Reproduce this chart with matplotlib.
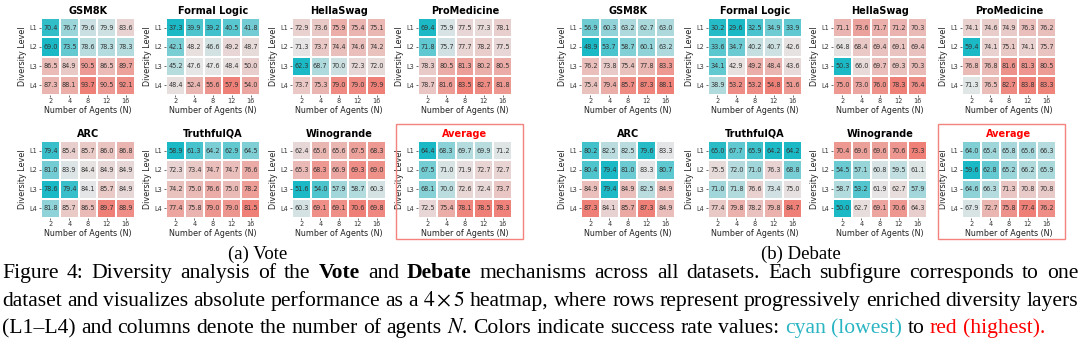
import numpy as np
import matplotlib
matplotlib.use("Agg")
import matplotlib.pyplot as plt
from matplotlib.colors import LinearSegmentedColormap
from matplotlib.patches import Rectangle

# -----------------------------
# DATA (rows L1..L4, columns N = 2, 4, 8, 12, 16)
# -----------------------------
agents = ["2", "4", "8", "12", "16"]
levels = ["L1", "L2", "L3", "L4"]
datasets = ["GSM8K", "Formal Logic", "HellaSwag", "ProMedicine",
            "ARC", "TruthfulQA", "Winogrande", "Average"]

vote_gsm8k = [[70.4, 76.7, 79.6, 79.9, 83.6], [69.0, 73.5, 78.6, 78.3, 78.3],
              [86.5, 84.9, 90.5, 86.5, 89.7], [87.3, 88.1, 93.7, 90.5, 92.1]]
vote_formal = [[37.3, 39.9, 39.2, 40.5, 41.8], [42.1, 48.2, 46.6, 49.2, 48.7],
               [45.2, 47.6, 47.6, 48.4, 50.0], [48.4, 52.4, 55.6, 57.9, 54.0]]
vote_hella = [[72.9, 73.6, 75.9, 75.4, 75.1], [71.3, 73.7, 74.4, 74.6, 74.2],
              [62.3, 68.7, 70.0, 72.3, 72.0], [73.7, 75.3, 79.0, 79.0, 79.9]]
vote_promed = [[69.4, 75.9, 77.5, 77.3, 78.1], [71.8, 75.7, 77.7, 78.2, 77.5],
               [78.3, 80.5, 81.3, 80.2, 80.5], [78.7, 81.6, 83.5, 82.7, 81.8]]
vote_arc = [[79.4, 85.4, 85.7, 86.0, 86.8], [81.0, 83.9, 84.4, 84.9, 84.9],
            [78.6, 79.4, 84.1, 85.7, 84.9], [81.8, 85.7, 86.5, 89.7, 88.9]]
vote_tqa = [[58.9, 61.3, 64.2, 62.9, 64.5], [72.3, 73.4, 74.7, 74.7, 76.6],
            [74.2, 75.0, 76.6, 75.0, 78.2], [77.4, 75.8, 79.0, 79.0, 81.5]]
vote_wino = [[62.4, 65.6, 65.6, 67.5, 68.3], [65.3, 68.3, 66.9, 69.3, 69.0],
             [51.6, 54.0, 57.9, 58.7, 60.3], [60.3, 69.1, 69.1, 70.6, 69.8]]
vote_avg = [[64.4, 68.3, 69.7, 69.9, 71.2], [67.5, 71.0, 71.9, 72.7, 72.7],
            [68.1, 70.0, 72.6, 72.4, 73.7], [72.5, 75.4, 78.1, 78.5, 78.3]]

debate_gsm8k = [[56.9, 60.3, 63.2, 62.7, 63.0], [48.9, 53.7, 58.7, 60.1, 63.2],
                [76.2, 73.8, 75.4, 77.8, 83.3], [75.4, 79.4, 85.7, 87.3, 88.1]]
debate_formal = [[30.2, 29.6, 32.5, 34.9, 33.9], [33.6, 34.7, 40.2, 40.7, 42.6],
                 [34.1, 42.9, 49.2, 48.4, 43.6], [38.9, 53.2, 53.2, 54.8, 51.6]]
debate_hella = [[71.1, 73.6, 71.7, 71.2, 70.3], [64.8, 68.4, 69.4, 69.1, 69.4],
                [50.3, 66.0, 69.7, 69.3, 70.3], [75.0, 73.0, 76.0, 78.3, 76.4]]
debate_promed = [[74.1, 74.6, 74.9, 76.3, 76.2], [59.4, 74.1, 75.1, 74.1, 75.7],
                 [76.8, 76.8, 81.6, 81.3, 80.5], [71.3, 76.5, 82.7, 83.8, 83.3]]
debate_arc = [[80.2, 82.5, 82.5, 79.6, 83.3], [80.4, 79.4, 81.0, 83.3, 80.7],
              [84.9, 79.4, 84.9, 82.5, 84.9], [87.3, 84.1, 85.7, 87.3, 84.9]]
debate_tqa = [[65.0, 67.7, 65.9, 64.2, 64.2], [75.5, 72.0, 71.0, 76.3, 68.8],
              [71.0, 71.8, 76.6, 73.4, 75.0], [77.4, 79.8, 78.2, 79.8, 84.7]]
debate_wino = [[70.4, 69.6, 69.6, 70.6, 73.3], [54.5, 57.1, 60.8, 59.5, 61.1],
               [58.7, 53.2, 61.9, 62.7, 57.9], [50.0, 62.7, 69.1, 70.6, 64.3]]
debate_avg = [[64.0, 65.4, 65.8, 65.6, 66.3], [59.6, 62.8, 65.2, 66.2, 65.9],
              [64.6, 66.3, 71.3, 70.8, 70.8], [67.9, 72.7, 75.8, 77.4, 76.2]]

vote_tables = [vote_gsm8k, vote_formal, vote_hella, vote_promed,
               vote_arc, vote_tqa, vote_wino, vote_avg]
debate_tables = [debate_gsm8k, debate_formal, debate_hella, debate_promed,
                 debate_arc, debate_tqa, debate_wino, debate_avg]

# -----------------------------
# FIGURE / LAYOUT (pixel helpers)
# -----------------------------
W, H = 1080, 351
fig = plt.figure(figsize=(W / 100, H / 100), dpi=100)
plt.rcParams["mathtext.fontset"] = "stix"

cmap = LinearSegmentedColormap.from_list("cyan_red", ["#1bb9c5", "#e6e6e6", "#ef8077"])


def px_axes(x, y, w, h):
    return fig.add_axes([x / W, 1 - (y + h) / H, w / W, h / H])


def draw_heatmap(ax, vals, title, title_color="black"):
    vals = np.array(vals)
    ax.pcolormesh(vals, cmap=cmap, vmin=vals.min(), vmax=vals.max(),
                  edgecolors="white", linewidth=0.3)
    ax.set_xlim(0, 5)
    ax.set_ylim(4, 0)
    for i in range(4):
        for j in range(5):
            ax.text(j + 0.5, i + 0.5, f"{vals[i, j]:.1f}", ha="center", va="center",
                    fontsize=4.7, color="#333333")
    ax.set_xticks(np.arange(5) + 0.5, agents)
    ax.set_yticks(np.arange(4) + 0.5, levels)
    ax.tick_params(labelsize=4.7, length=1.5, width=0.5, pad=1, colors="#333333")
    for s in ax.spines.values():
        s.set_visible(False)
    ax.set_title(title, fontsize=7, fontweight="bold", color=title_color, pad=3)
    ax.set_xlabel("Number of Agents (N)", fontsize=5.8, labelpad=1, color="#222222")
    ax.set_ylabel("Diversity Level", fontsize=5.8, labelpad=2, color="#222222")


col_x = {"vote": [41, 166, 292, 418], "debate": [581, 708, 833, 962]}
row_y = [18, 141]
cell_w, cell_h = 94, 77

for group, tables in [("vote", vote_tables), ("debate", debate_tables)]:
    for k, (name, vals) in enumerate(zip(datasets, tables)):
        ax = px_axes(col_x[group][k % 4], row_y[k // 4], cell_w, cell_h)
        draw_heatmap(ax, vals, name, "#ff0000" if name == "Average" else "black")

# red boxes around the Average panels
for bx in [396, 938]:
    fig.patches.append(Rectangle((bx / W, 1 - 239 / H), 127 / W, 115 / H,
                                 transform=fig.transFigure, fill=False,
                                 edgecolor="#f4837d", linewidth=1.0))

# -----------------------------
# CAPTIONS
# -----------------------------
serif = "Liberation Serif"
FS = 15.6
fig.text(258 / W, 1 - 259 / H, "(a) Vote", fontsize=13.5, family=serif, ha="center", va="baseline")
fig.text(801 / W, 1 - 259 / H, "(b) Debate", fontsize=13.5, family=serif, ha="center", va="baseline")

renderer = fig.canvas.get_renderer()


def words(s, **kw):
    return [(w, kw) for w in s.split()]


def place_line(items, y, x0=2, x1=1078, justify=True):
    texts = [fig.text(0, 1 - y / H, w, fontsize=FS, family=serif, va="baseline", **kw)
             for w, kw in items]
    widths = [t.get_window_extent(renderer).width for t in texts]
    gap = 0.25 * FS * 100 / 72
    if justify:
        gap = max((x1 - x0 - sum(widths)) / (len(texts) - 1), 2)
    x = x0
    for t, wd in zip(texts, widths):
        t.set_x(x / W)
        x += wd + gap


line1 = (words("Figure 4: Diversity analysis of the") + [("Vote", {"fontweight": "bold"})]
         + words("and") + [("Debate", {"fontweight": "bold"})]
         + words("mechanisms across all datasets. Each subfigure corresponds to one"))
line2 = (words("dataset and visualizes absolute performance as a") + [(r"$4\times5$", {})]
         + words("heatmap, where rows represent progressively enriched diversity layers"))
line3 = (words("(L1\u2013L4) and columns denote the number of agents") + [(r"$N$.", {})]
         + words("Colors indicate success rate values:")
         + words("cyan (lowest)", color="#2bb5c3") + words("to")
         + [("red", {"color": "#ff0000"}), ("(highest).", {"color": "#ff0000"})])

place_line(line1, 278)
place_line(line2, 306)
place_line(line3, 333, justify=False)

fig.savefig("out.png", dpi=100)
